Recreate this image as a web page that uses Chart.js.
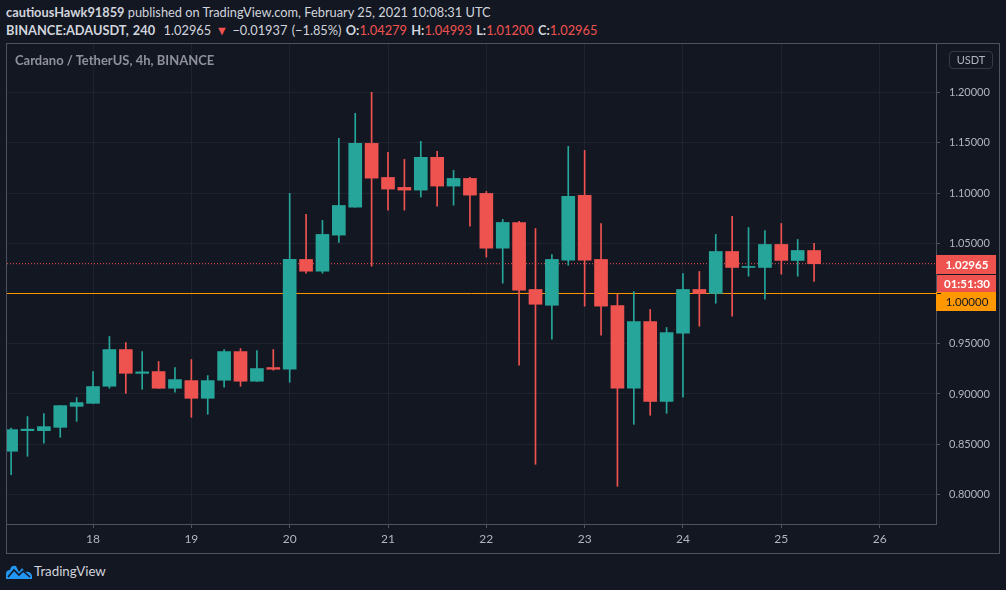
<!DOCTYPE html>
<html>
<head>
<meta charset="utf-8">
<script src="https://cdn.jsdelivr.net/npm/chart.js@4.4.0/dist/chart.umd.min.js"></script>
<style>
html, body { margin: 0; padding: 0; background: #131722; width: 1006px; height: 590px; overflow: hidden; font-family: Lato, "Noto Sans", sans-serif; }
.hdr { position: absolute; left: 6px; font-size: 12.8px; color: #d1d4dc; white-space: nowrap; }
#hdr1 { top: 4px; }
#hdr2 { top: 22px; word-spacing: 1px; }
.b { font-weight: bold; }
.r { color: #ef5350; }
#frame { position: absolute; left: 6px; top: 43px; width: 992px; height: 509px; border: 1px solid #4c525e; }
#title { position: absolute; left: 15px; top: 52px; font-size: 13px; font-weight: bold; color: #8f929b; white-space: nowrap; }
#unit { position: absolute; left: 949px; top: 51px; width: 42px; height: 16px; border: 1px solid #363a45; border-radius: 4px; font-size: 11px; color: #b2b5be; text-align: center; line-height: 16px; }
#logo { position: absolute; left: 6px; top: 563px; }
#brand { position: absolute; left: 34px; top: 563px; font-size: 13.3px; color: #d1d4dc; }
</style>
</head>
<body>
<div id="hdr1" class="hdr"><span class="b">cautiousHawk91859</span> published on TradingView.com, February 25, 2021 10:08:31 UTC</div>
<div id="hdr2" class="hdr"><span class="b">BINANCE:ADAUSDT, 240</span>&nbsp; 1.02965 <span class="r">▼</span> −0.01937 (−1.85%) <span class="b">O:</span><span class="r">1.04279</span> <span class="b">H:</span><span class="r">1.04993</span> <span class="b">L:</span><span class="r">1.01200</span> <span class="b">C:</span><span class="r">1.02965</span></div>
<div id="frame"><canvas id="chart"></canvas></div>
<div id="title">Cardano / TetherUS, 4h, BINANCE</div>
<div id="unit">USDT</div>
<svg id="logo" width="26" height="16" viewBox="0 0 26 16">
  <path d="M0 16 L0 11 Q0 7 4 7 Q5 2 10 3 L13 9 L16 5 L19 9 Q25 8 26 13 L26 16 Z" fill="#2196f3"/>
  <path d="M2 14 L8 7 L13 12 L17 8 L24 14" stroke="#131722" stroke-width="1.6" fill="none"/>
</svg>
<div id="brand">TradingView</div>
<script>
// 4h candles, Feb 17 04:00 .. Feb 25 08:00 (index 0..49)
var opens = [0.8430, 0.8635, 0.8635, 0.8668, 0.8877, 0.8907, 0.9077, 0.9442, 0.9205, 0.9223,
             0.9057, 0.9133, 0.8957, 0.9137, 0.9422, 0.9127, 0.9263, 0.9246, 1.0339, 1.0222,
             1.0581, 1.0860, 1.1494, 1.1155, 1.1056, 1.1029, 1.1355, 1.1069, 1.1145, 1.0996,
             1.0451, 1.0707, 1.0040, 0.9883, 1.0332, 1.0976, 1.0339, 0.9880, 0.9057, 0.9721,
             0.8927, 0.9605, 1.0040, 1.0000, 1.0418, 1.0259, 1.0259, 1.0488, 1.0329, 1.04279];
var highs = [0.8660, 0.8775, 0.8805, 0.8886, 0.8964, 0.9223, 0.9572, 0.9512, 0.9422, 0.9323,
             0.9263, 0.9343, 0.9183, 0.9442, 0.9452, 0.9432, 0.9442, 1.0996, 1.0787, 1.0727,
             1.1544, 1.1793, 1.2002, 1.1404, 1.1335, 1.1514, 1.1414, 1.1225, 1.1155, 1.1016,
             1.0737, 1.0717, 1.0647, 1.0388, 1.1464, 1.1424, 1.0697, 0.9993, 1.0020, 0.9841,
             0.9661, 1.0199, 1.0219, 1.0588, 1.0767, 1.0657, 1.0627, 1.0697, 1.0538, 1.04993];
var lows = [0.8197, 0.8380, 0.8510, 0.8569, 0.8728, 0.8905, 0.9057, 0.9007, 0.9047, 0.9055,
            0.9017, 0.8768, 0.8798, 0.9067, 0.9077, 0.9125, 0.9236, 0.9117, 1.0202, 1.0202,
            1.0508, 1.0858, 1.0272, 1.0830, 1.0830, 1.0959, 1.0869, 1.0879, 1.0670, 1.0362,
            1.0103, 0.9286, 0.8300, 0.9545, 1.0282, 0.9874, 0.9585, 0.8081, 0.8698, 0.8788,
            0.8808, 0.8967, 0.9674, 0.9903, 0.9774, 1.0172, 0.9943, 1.0192, 1.0172, 1.01200];
var closes = [0.8645, 0.8650, 0.8675, 0.8884, 0.8914, 0.9074, 0.9442, 0.9206, 0.9220, 0.9057,
              0.9143, 0.8957, 0.9133, 0.9422, 0.9127, 0.9253, 0.9246, 1.0339, 1.0222, 1.0588,
              1.0876, 1.1494, 1.1148, 1.1039, 1.1029, 1.1355, 1.1069, 1.1145, 1.0979, 1.0451,
              1.0707, 1.0033, 0.9893, 1.0339, 1.0966, 1.0332, 0.9874, 0.9057, 0.9721, 0.8927,
              0.9612, 1.0040, 1.0000, 1.0418, 1.0259, 1.0269, 1.0488, 1.0329, 1.0428, 1.02965];

var dayLabels = ['18', '19', '20', '21', '22', '23', '24', '25', '26'];
var firstDayIndex = 5;   // candle index of Feb 18 00:00
var priceTicks = [0.80, 0.85, 0.90, 0.95, 1.00, 1.05, 1.10, 1.15, 1.20];
var lastPrice = 1.02965;
var roundLevel = 1.00;
var countdown = '01:51:30';

var GREEN = '#26a69a', RED = '#ef5350', ORANGE = '#ff9800';
var FONT = 'Lato, "Noto Sans", sans-serif';
var xMin = -0.25, xMax = 56.44;

var colors = opens.map(function (o, i) { return closes[i] >= o ? GREEN : RED; });

var priceLabels = {
    id: 'priceLabels',
    afterDraw: function (chart) {
        var ctx = chart.ctx, y = chart.scales.y, left = chart.chartArea.right;
        ctx.save();
        ctx.textAlign = 'center';
        ctx.textBaseline = 'middle';
        var py = Math.round(y.getPixelForValue(lastPrice));
        ctx.fillStyle = RED;
        ctx.fillRect(left, py - 9, 60, 19);
        ctx.fillRect(left + 1, py + 11, 59, 17);
        ctx.fillStyle = '#ffffff';
        ctx.font = 'bold 11.5px ' + FONT;
        ctx.fillText(lastPrice.toFixed(5), left + 31, py + 1);
        ctx.fillText(countdown, left + 31, py + 20);
        var oy = py + 28;
        ctx.fillStyle = ORANGE;
        ctx.fillRect(left, oy, 60, 19);
        ctx.fillStyle = '#131722';
        ctx.font = '11.5px ' + FONT;
        ctx.fillText(roundLevel.toFixed(5), left + 31, oy + 10);
        ctx.fillRect(left + 1, Math.floor(y.getPixelForValue(roundLevel)), 4, 1);
        ctx.restore();
    }
};

new Chart(document.getElementById('chart'), {
    type: 'bar',
    data: {
        datasets: [{
            label: 'body',
            order: 0,
            data: opens.map(function (o, i) { return { x: i, y: [o, closes[i]] }; }),
            backgroundColor: colors,
            barThickness: 13,
            minBarLength: 1,
            grouped: false
        }, {
            label: 'wick',
            order: 1,
            data: lows.map(function (l, i) { return { x: i, y: [l, highs[i]] }; }),
            backgroundColor: colors,
            barThickness: 1,
            grouped: false
        }, {
            type: 'line',
            label: 'last',
            order: 2,
            data: [{ x: xMin, y: lastPrice }, { x: xMax, y: lastPrice }],
            borderColor: RED,
            borderWidth: 1,
            borderDash: [1, 2],
            pointRadius: 0
        }, {
            type: 'line',
            label: 'level',
            order: 3,
            data: [{ x: xMin, y: roundLevel }, { x: xMax, y: roundLevel }],
            borderColor: ORANGE,
            borderWidth: 1,
            pointRadius: 0
        }]
    },
    options: {
        responsive: true,
        maintainAspectRatio: false,
        animation: false,
        layout: { padding: 0 },
        plugins: {
            legend: { display: false },
            tooltip: { enabled: false }
        },
        scales: {
            x: {
                type: 'linear',
                min: xMin,
                max: xMax,
                offset: false,
                afterBuildTicks: function (scale) {
                    scale.ticks = dayLabels.map(function (d, k) { return { value: firstDayIndex + 6 * k }; });
                },
                afterFit: function (scale) {
                    scale.height = 29;
                    scale.paddingLeft = 0;
                    scale.paddingRight = 0;
                },
                ticks: {
                    autoSkip: false,
                    maxRotation: 0,
                    color: '#b2b5be',
                    font: { size: 12, family: FONT },
                    padding: 4,
                    callback: function (v) { return dayLabels[Math.round((v - firstDayIndex) / 6)]; }
                },
                grid: { color: '#1f232e', tickColor: '#4c525e', tickLength: 4, offset: false },
                border: { color: '#4c525e' }
            },
            y: {
                position: 'right',
                min: 0.7706,
                max: 1.2483,
                afterBuildTicks: function (scale) {
                    scale.ticks = priceTicks.map(function (v) { return { value: v }; });
                },
                afterFit: function (scale) {
                    scale.width = 63;
                    scale.paddingTop = 0;
                    scale.paddingBottom = 0;
                },
                ticks: {
                    color: '#b2b5be',
                    font: { size: 11, family: FONT },
                    padding: 9,
                    callback: function (v) { return v.toFixed(5); }
                },
                grid: { color: '#1f232e', tickColor: '#4c525e', tickLength: 4 },
                border: { color: '#4c525e' }
            }
        }
    },
    plugins: [priceLabels]
});
</script>
</body>
</html>
